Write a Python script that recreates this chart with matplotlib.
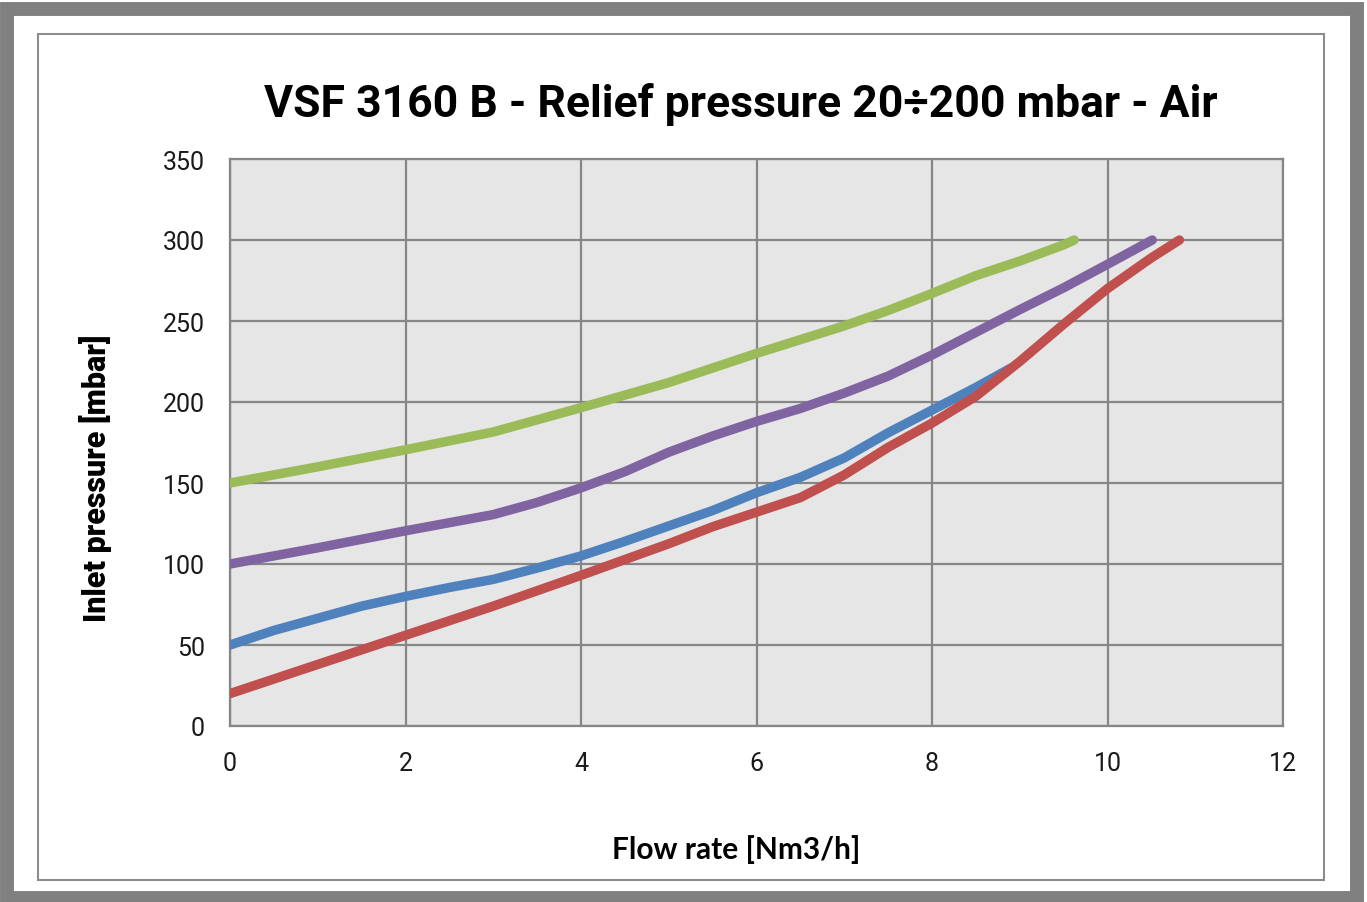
import matplotlib
matplotlib.use('Agg')
import matplotlib.pyplot as plt
from matplotlib.patches import Rectangle

# curves (flow rate Nm3/h, inlet pressure mbar)
green_x = [0, 1, 2, 3, 4, 5, 5.5, 6, 6.5, 7, 7.5, 8, 8.5, 9, 9.5, 9.62]
green_y = [150, 160, 170.5, 181.5, 196.5, 212, 221, 230, 238.5, 247, 256.5, 267, 278, 287, 297, 300]

purple_x = [0, 1, 2, 3, 3.5, 4, 4.5, 5, 5.5, 6, 6.5, 7, 7.5, 8, 8.5, 9, 9.5, 10, 10.51]
purple_y = [100, 110, 120.5, 130.5, 138, 147, 157, 169, 179, 188, 196, 205.5, 216, 229, 243, 257, 270.5, 285, 300]

blue_x = [0, 0.5, 1, 1.5, 2, 2.5, 3, 3.5, 4, 4.5, 5, 5.5, 6, 6.5, 7, 7.5, 8, 8.5, 8.9]
blue_y = [50, 59, 66.5, 74, 80, 85.5, 90.5, 97.5, 105, 114, 123.5, 133, 144, 153.5, 165.5, 181, 195, 209, 221]

red_x = [0, 0.5, 1, 1.5, 2, 3, 4, 5, 5.5, 6, 6.5, 7, 7.5, 8, 8.5, 9, 9.5, 10, 10.5, 10.82]
red_y = [20, 29, 38, 47, 56, 74, 93, 112.5, 123, 132, 141, 155, 172, 187, 203.5, 225, 248, 270, 289, 300]

x_ticks = [0, 2, 4, 6, 8, 10, 12]
y_ticks = [0, 50, 100, 150, 200, 250, 300, 350]

narrow = ['Liberation Sans Narrow', 'Roboto', 'DejaVu Sans']

fig = plt.figure(figsize=(13.67, 9.03), dpi=100)
fig.patch.set_facecolor('white')

# outer thick gray frame and inner thin frame
fig.patches.append(Rectangle((0.005, 0.004), 0.988, 0.985, transform=fig.transFigure,
                             fill=False, edgecolor='#808080', linewidth=10))
fig.patches.append(Rectangle((38 / 1367, 1 - 881 / 903), (1324 - 38) / 1367, (881 - 35) / 903,
                             transform=fig.transFigure, fill=False,
                             edgecolor='#8c8c8c', linewidth=1.5))

ax = fig.add_axes([230 / 1367, 1 - 727 / 903, (1283 - 230) / 1367, (727 - 160) / 903])
ax.set_facecolor('#e6e6e6')

lw = 6.8
ax.plot(green_x, green_y, color='#9bbb59', lw=lw, solid_capstyle='round', solid_joinstyle='round', zorder=3)
ax.plot(purple_x, purple_y, color='#8064a2', lw=lw, solid_capstyle='round', solid_joinstyle='round', zorder=3)
ax.plot(blue_x, blue_y, color='#4f81bd', lw=lw, solid_capstyle='round', solid_joinstyle='round', zorder=3)
ax.plot(red_x, red_y, color='#c0504d', lw=lw, solid_capstyle='round', solid_joinstyle='round', zorder=4)

ax.set_xlim(0, 12)
ax.set_ylim(0, 350)
ax.set_xticks(x_ticks)
ax.set_yticks(y_ticks)
ax.grid(True, color='#868686', lw=1.6)
ax.set_axisbelow(True)
for s in ax.spines.values():
    s.set_color('#868686')
    s.set_linewidth(1.6)
ax.tick_params(length=0, pad=18, colors='#1a1a1a', labelsize=18)
for lab in ax.get_xticklabels() + ax.get_yticklabels():
    lab.set_family(narrow)

ax.set_ylabel('Inlet pressure [mbar]', fontsize=22, fontweight='heavy', family=narrow)
ax.yaxis.set_label_coords(-118 / 1053, 0.439)
fig.text(736 / 1367, 1 - 850 / 903, 'Flow rate [Nm3/h]', fontsize=21.5, fontweight='bold',
         family=['Lato', 'DejaVu Sans'], ha='center', va='center')
fig.text(741 / 1367, 1 - 104 / 903, 'VSF 3160 B - Relief pressure 20\u00f7200 mbar - Air',
         fontsize=32, fontweight='bold', family=narrow, ha='center', va='center')

fig.savefig('out.png', dpi=100)
